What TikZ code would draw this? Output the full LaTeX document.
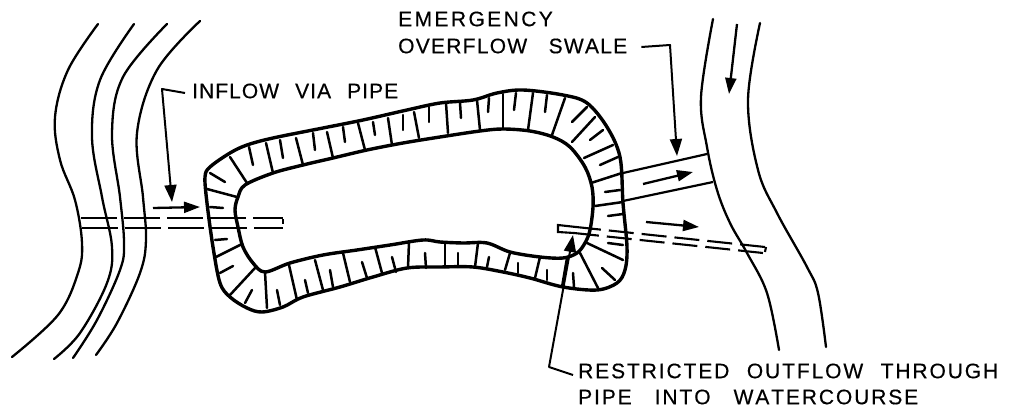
\documentclass[tikz,border=0pt]{standalone}
\usepackage{fontspec}
\setmainfont{Liberation Sans}
\newfontfamily\labelfont[LetterSpace=9,Kerning=Off,FakeBold=0.4]{Liberation Sans}
\newfontfamily\widefont[LetterSpace=11.5,Kerning=Off,FakeBold=0.4]{Liberation Sans}
\newfontfamily\swalefont[LetterSpace=6,Kerning=Off,FakeBold=0.4]{Liberation Sans}
\newfontfamily\tightfont[LetterSpace=5,Kerning=Off,FakeBold=0.4]{Liberation Sans}
\usetikzlibrary{arrows.meta}
\tikzset{
  bankline/.style={line width=3.4pt,line join=round},
  spoke/.style={line width=2.5pt,line cap=round},
  stream/.style={line width=2.3pt,line cap=round},
  leader/.style={line width=2pt,line join=round,-{Triangle[length=17pt,width=12pt]}},
  flow/.style={line width=2.3pt,-{Triangle[length=16pt,width=11pt]}},
  pipeline/.style={line width=2.1pt},
  pipeA/.style={pipeline,dash pattern=on 36pt off 7pt},
  pipeB/.style={pipeline,dash pattern=on 25pt off 8pt},
  swaleline/.style={line width=2.2pt},
  lab/.style={anchor=west,inner sep=0pt,font=\labelfont\fontsize{21}{21}\selectfont},
  labwide/.style={anchor=west,inner sep=0pt,font=\widefont\fontsize{21}{21}\selectfont},
  labswale/.style={anchor=west,inner sep=0pt,font=\swalefont\fontsize{21}{21}\selectfont},
  labtight/.style={anchor=west,inner sep=0pt,font=\tightfont\fontsize{21}{21}\selectfont}
}
\newcommand{\spreadto}[2]{\hbox to #1{\spaceskip=.3em plus 1fil\relax #2}}
\begin{document}
\begin{tikzpicture}[x=1pt,y=-1pt]
\useasboundingbox (0,0) rectangle (1010,409);
\fill[white] (0,0) rectangle (1010,409);
% left stream lines
\draw[stream] plot[smooth,tension=.6] coordinates {(98,24) (68,70) (55,117) (60,160) (75,200) (82,243) (78,273) (58,315) (12,357)};
\draw[stream] plot[smooth,tension=.6] coordinates {(134,24) (100,80) (92,137) (102,197) (112,247) (107,283) (80,333) (54,359)};
\draw[stream] plot[smooth,tension=.6] coordinates {(167,24) (123,77) (112,133) (120,197) (124,243) (120,270) (97,320) (73,358)};
\draw[stream] plot[smooth,tension=.6] coordinates {(200,21) (157,70) (137,133) (143,197) (146,240) (140,273) (117,323) (96,355)};
% right stream lines
\draw[stream] plot[smooth,tension=.6] coordinates {(713,19) (701,97) (707,147) (717,190) (730,223) (747,253) (767,293) (779,350)};
\draw[stream] plot[smooth,tension=.6] coordinates {(760,23) (748,100) (758,170) (777,213) (807,267) (818,293) (826,347)};
% pond bank
\draw[bankline] plot[smooth cycle,tension=.55] coordinates {(205,177) (210,167) (230,153) (247,145) (273,138) (323,128) (363,120) (407,110) (440,103) (473,100) (497,93) (523,90) (563,95) (587,103) (607,127) (620,157) (623,203) (627,247) (625,270) (617,283) (597,290) (563,287) (530,278) (503,272) (473,267) (440,267) (407,268) (373,277) (340,287) (303,297) (283,307) (262,312) (247,308) (230,297) (220,283) (213,247) (207,203)};
\draw[bankline] plot[smooth cycle,tension=.55] coordinates {(238,197) (245,185) (273,173) (303,165) (333,158) (367,150) (403,143) (440,137) (480,131) (503,129) (530,131) (553,137) (570,147) (585,167) (592,187) (593,207) (590,230) (585,243) (577,253) (563,258) (540,257) (510,252) (487,243) (463,243) (440,242) (423,240) (390,245) (357,250) (323,255) (290,263) (265,272) (253,263) (243,247) (238,227) (235,210)};
% bank spokes
\foreach \ax/\ay/\bx/\by in {
 230/157/247/183, 266/143/273/173, 296/138/303/165, 327/132/333/158, 358/123/365/150, 388/118/392/145, 414/112/419/138, 446/103/448/133,
 249/147/253/165, 280/140/283/158, 313/133/315/150, 343/127/345/142, 373/122/375/135, 403/115/403/130, 429/107/429/122,
 210/173/225/182, 207/189/237/197, 210/207/223/208, 215/240/227/239, 216/257/242/244, 220/273/233/266, 230/295/255/268, 245/303/252/290,
 267/308/265/272, 280/305/277/290, 297/300/289/265, 308/293/305/280, 323/290/315/260, 333/287/330/270, 350/282/343/253, 367/278/362/262,
 382/273/375/247, 396/272/392/257, 408/268/409/242, 426/268/425/253, 445/267/445/243, 458/267/458/253, 475/267/478/243, 487/267/489/257,
 505/270/510/253, 518/273/518/263, 535/278/540/257, 547/280/547/270, 562/287/567/258, 574/287/573/273, 598/288/580/253, 615/280/602/268,
 623/260/587/243, 623/245/608/243, 623/214/608/216, 623/202/595/206, 620/190/605/192, 622/173/591/183, 618/157/600/165, 613/145/584/158,
 603/130/590/140, 595/117/572/142, 587/107/572/122, 565/98/552/135, 547/95/545/112, 533/93/528/130, 516/93/514/110, 503/94/503/128,
 489/98/488/112, 477/100/480/130, 460/103/461/118}
 {\draw[spoke] (\ax,\ay) -- (\bx,\by);}
% swale
\coordinate (swaleTopA) at (623,173);
\coordinate (swaleTopB) at (707,154);
\coordinate (swaleLowA) at (623,201);
\coordinate (swaleLowB) at (713,182);
\draw[swaleline] (swaleTopA) -- (swaleTopB);
\draw[swaleline] (swaleLowA) -- (swaleLowB);
% inflow pipe
\coordinate (inTopA) at (81,218);
\coordinate (inTopB) at (283,218);
\coordinate (inLowA) at (82,228);
\coordinate (inLowB) at (283,228);
\draw[pipeA] (inTopA) -- (inTopB);
\draw[pipeA] (inLowA) -- (inLowB);
\draw[pipeline] (283,219) -- (283,224);
% outflow pipe
\coordinate (outTopA) at (558,225);
\coordinate (outTopS) at (576,227);
\coordinate (outTopB) at (765,247);
\coordinate (outLowA) at (558,232);
\coordinate (outLowS) at (574,233);
\coordinate (outLowB) at (763,253);
\draw[pipeline] (outTopS) -- (outTopA) -- (outLowA) -- (outLowS);
\draw[pipeB] (outTopS) -- (outTopB);
\draw[pipeB] (outLowS) -- (outLowB);
\draw[pipeline] (766,247) -- (765,252);
% flow arrows
\coordinate (fa1) at (153,208); \coordinate (fa2) at (200,207);
\coordinate (fb1) at (643,184); \coordinate (fb2) at (693,172);
\coordinate (fc1) at (646,222); \coordinate (fc2) at (699,227);
\coordinate (fd1) at (737,24);  \coordinate (fd2) at (729,94);
\draw[flow] (fa1) -- (fa2);
\draw[flow] (fb1) -- (fb2);
\draw[flow] (fc1) -- (fc2);
\draw[flow] (fd1) -- (fd2);
% labels
\node[labtight] (inflow) at (192,91) {\spreadto{206pt}{INFLOW VIA PIPE}};
\node[labwide] (emerg) at (398,19) {EMERGENCY};
\node[labswale] (swale) at (398,46) {\spreadto{229pt}{OVERFLOW SWALE}};
\node[lab] (restr) at (578,371) {\spreadto{420pt}{RESTRICTED OUTFLOW THROUGH}};
\node[lab] (pipe) at (578,397) {\spreadto{340pt}{PIPE INTO WATERCOURSE}};
% leaders
\coordinate (inCorner) at (162,89);
\coordinate (inTip) at (172,202);
\coordinate (swCorner) at (670,45);
\coordinate (swTip) at (677,156);
\coordinate (reCorner) at (549,367);
\coordinate (reTip) at (573,235);
\draw[leader] ([xshift=-7pt,yshift=-2pt]inflow.west) -- (inCorner) -- (inTip);
\draw[leader] ([xshift=14pt,yshift=-1pt]swale.east) -- (swCorner) -- (swTip);
\draw[leader] ([xshift=-5pt,yshift=-4pt]restr.west) -- (reCorner) -- (reTip);
\end{tikzpicture}
\end{document}
